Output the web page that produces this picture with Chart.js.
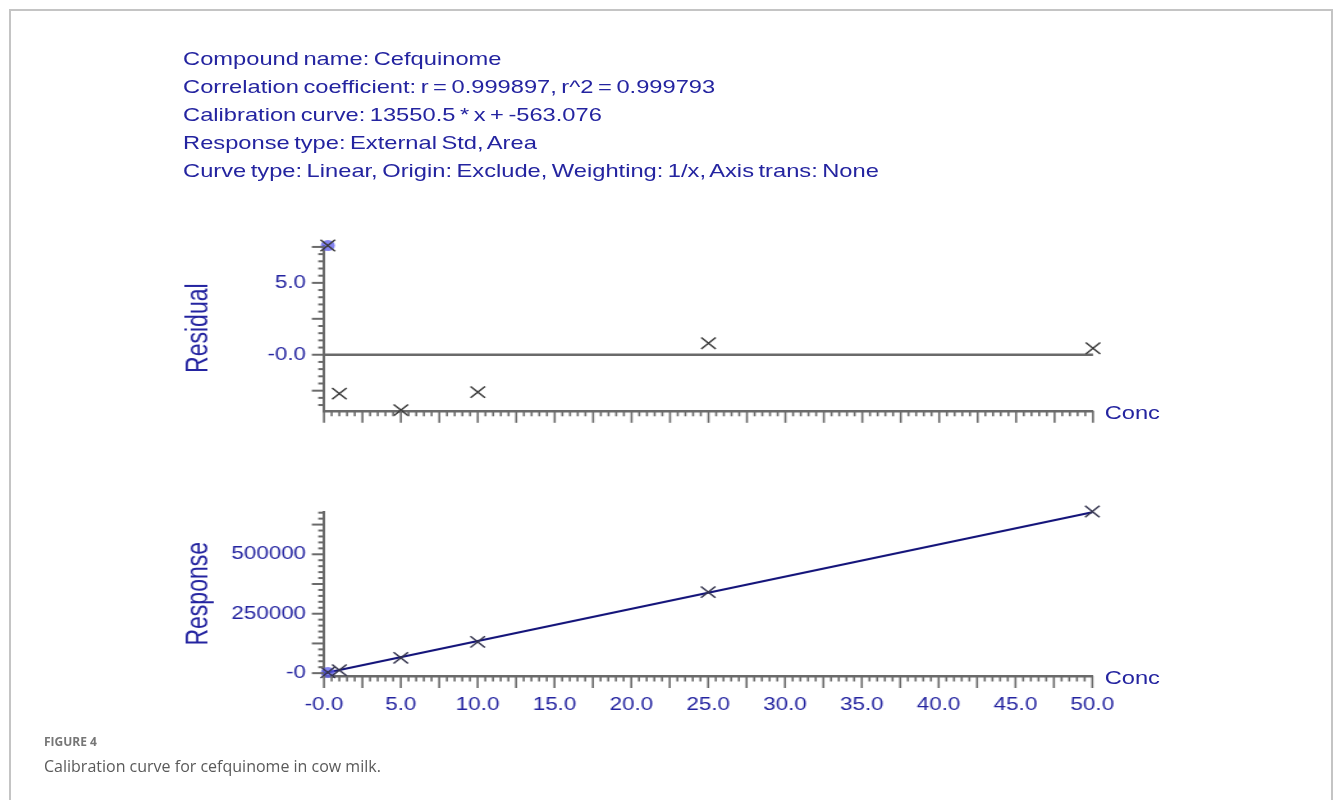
<!DOCTYPE html>
<html><head><meta charset="utf-8">
<script src="https://cdn.jsdelivr.net/npm/chart.js@4.4.1/dist/chart.umd.min.js"></script>
<style>
html,body{margin:0;padding:0;background:#fff;width:1333px;height:800px;overflow:hidden;}
#frame{position:absolute;left:9px;top:9px;width:1324px;height:900px;border:2px solid #c4c4c4;border-bottom:none;box-sizing:border-box;}
#fig{position:absolute;left:0;top:0;width:1042px;height:740px;transform:scaleX(1.28);transform-origin:0 0;}
.t{position:absolute;font-family:'Liberation Sans',Arial,sans-serif;color:#2424a0;white-space:nowrap;}
#info{left:143px;top:45px;font-size:18.5px;line-height:28px;word-spacing:-1.6px;}
.conc{font-size:18.5px;line-height:20px;left:863px;}
#c1{position:absolute;left:100px;top:221.2px;width:780px;height:214.3px;}
#c2{position:absolute;left:100px;top:487.2px;width:789.4px;height:243px;}
#figlabel{position:absolute;left:44px;top:734px;font-family:'Open Sans',sans-serif;font-weight:700;font-size:12px;line-height:16px;color:#767676;}
#caption{position:absolute;left:44px;top:755.5px;font-family:'Open Sans',sans-serif;font-size:16px;line-height:20px;color:#5a5a5a;}
</style></head>
<body>
<div id="frame"></div>
<div id="fig">
  <div id="info" class="t"></div>
  <div id="c1"><canvas id="resChart"></canvas></div>
  <div id="c2"><canvas id="respChart"></canvas></div>
  <div class="t conc" style="top:403px">Conc</div>
  <div class="t conc" style="top:668px">Conc</div>
</div>
<div id="figlabel">FIGURE 4</div>
<div id="caption">Calibration curve for cefquinome in cow milk.</div>
<script>
// ---- data ----
const infoLines = [
  'Compound name: Cefquinome',
  'Correlation coefficient: r = 0.999897, r^2 = 0.999793',
  'Calibration curve: 13550.5 * x + -563.076',
  'Response type: External Std, Area',
  'Curve type: Linear, Origin: Exclude, Weighting: 1/x, Axis trans: None'
];
const concLevels     = [0.25, 1, 5, 10, 25, 50];
const residualValues = [7.6, -2.7, -3.85, -2.6, 0.8, 0.45];
const responseValues = [3080, 12620, 64580, 131480, 340900, 679900];
const highlightedIndex = 0;
const fitLineConc     = [0, 50];
const fitLineResponse = [-563, 676962];
const zeroLineConc     = [0, 50];
const zeroLineResidual = [0, 0];
const concTickValues  = [0, 5, 10, 15, 20, 25, 30, 35, 40, 45, 50];
const concTickLabels  = ['-0.0','5.0','10.0','15.0','20.0','25.0','30.0','35.0','40.0','45.0','50.0'];
const residualTickValues = [0, 5];
const residualTickLabels = ['-0.0', '5.0'];
const responseTickValues = [0, 250000, 500000];
const responseTickLabels = ['-0', '250000', '500000'];

document.getElementById('info').innerHTML = infoLines.map(s => '<div>' + s + '</div>').join('');

const BLUE = '#2424a0';
const AXIS = '#6a6a6a';
const FONT = 'Liberation Sans';

function pts(xs, ys) { return xs.map((x, i) => ({x: x, y: ys[i]})); }

function tickPlugin(o) {
  return {
    id: 'axisTicks',
    afterDraw(chart) {
      const {ctx, chartArea: a, scales: {x, y}} = chart;
      ctx.save();
      ctx.strokeStyle = AXIS;
      const isMult = (v, m) => Math.abs(v / m - Math.round(v / m)) < 1e-6;
      ctx.lineWidth = 1.6;
      for (let i = Math.ceil(x.min / o.xStep - 1e-9); i * o.xStep <= x.max + 1e-9; i++) {
        const v = i * o.xStep;
        const len = isMult(v, o.xMid) ? 12 : 5.5;
        const px = x.getPixelForValue(v);
        ctx.beginPath(); ctx.moveTo(px, a.bottom); ctx.lineTo(px, a.bottom + len); ctx.stroke();
      }
      ctx.lineWidth = 2;
      for (let i = Math.ceil(y.min / o.yStep - 1e-9); i * o.yStep <= y.max + 1e-9; i++) {
        const v = i * o.yStep;
        const len = isMult(v, o.yMid) ? 9.5 : 4.5;
        const py = y.getPixelForValue(v);
        ctx.beginPath(); ctx.moveTo(a.left, py); ctx.lineTo(a.left - len, py); ctx.stroke();
      }
      ctx.restore();
    }
  };
}

function labelFrom(values, labels) {
  return function (v) { const i = values.indexOf(v); return i >= 0 ? labels[i] : ''; };
}

function baseOptions(o) {
  return {
    responsive: true, maintainAspectRatio: false, animation: false,
    layout: {padding: {left: 0, right: 26.1, top: 0, bottom: 0}},
    plugins: {legend: {display: false}, tooltip: {enabled: false}},
    scales: {
      x: {
        type: 'linear', position: 'bottom', min: 0, max: 50,
        grid: {display: false, drawTicks: false},
        border: {display: true, color: AXIS, width: 2.5},
        afterBuildTicks: s => { s.ticks = concTickValues.map(v => ({value: v})); },
        afterFit: s => { s.height = o.xHeight; },
        ticks: {display: o.showXLabels, autoSkip: false, maxRotation: 0, padding: 19,
          color: BLUE, font: {family: FONT, size: 17.5},
          callback: labelFrom(concTickValues, concTickLabels)}
      },
      y: {
        type: 'linear', position: 'left', min: o.yMin, max: o.yMax,
        grid: {display: false, drawTicks: false},
        border: {display: true, color: AXIS, width: 2},
        afterBuildTicks: s => { s.ticks = o.yTicks.map(v => ({value: v})); },
        afterFit: s => { s.width = 153.1; },
        title: {display: true, text: o.yTitle, color: BLUE, font: {family: FONT, size: 23}, padding: {top: 41.7, bottom: 0}},
        ticks: {padding: 14, color: BLUE, font: {family: FONT, size: 17.5},
          callback: labelFrom(o.yTicks, o.yLabels)}
      }
    }
  };
}

new Chart(document.getElementById('resChart'), {
  type: 'scatter',
  data: {datasets: [
    {order: 0, data: pts(concLevels, residualValues), pointStyle: 'crossRot', pointRadius: 8,
     borderColor: '#3a3a3a', borderWidth: 1.4, clip: false},
    {order: 1, data: [{x: concLevels[highlightedIndex], y: residualValues[highlightedIndex]}], pointStyle: 'circle',
     pointRadius: 5.5, backgroundColor: 'rgba(90,90,235,0.75)', borderWidth: 0, clip: false},
    {order: 2, type: 'line', data: pts(zeroLineConc, zeroLineResidual), borderColor: AXIS, borderWidth: 2.6,
     pointRadius: 0, clip: false}
  ]},
  options: baseOptions({xHeight: 10, showXLabels: false, yMin: -3.9, yMax: 7.6,
    yTicks: residualTickValues, yLabels: residualTickLabels, yTitle: 'Residual'}),
  plugins: [tickPlugin({xStep: 0.5, xMid: 2.5, yStep: 0.5, yMid: 2.5})]
});

new Chart(document.getElementById('respChart'), {
  type: 'scatter',
  data: {datasets: [
    {order: 0, data: pts(concLevels, responseValues), pointStyle: 'crossRot', pointRadius: 8,
     borderColor: '#34344e', borderWidth: 1.4, clip: false},
    {order: 1, data: [{x: concLevels[highlightedIndex], y: responseValues[highlightedIndex]}], pointStyle: 'circle',
     pointRadius: 5.5, backgroundColor: 'rgba(90,90,235,0.75)', borderWidth: 0, clip: false},
    {order: 2, type: 'line', data: pts(fitLineConc, fitLineResponse), borderColor: '#14147a', borderWidth: 2,
     pointRadius: 0, clip: false}
  ]},
  options: baseOptions({xHeight: 54, showXLabels: true, yMin: -12000, yMax: 680000,
    yTicks: responseTickValues, yLabels: responseTickLabels, yTitle: 'Response'}),
  plugins: [tickPlugin({xStep: 0.5, xMid: 2.5, yStep: 25000, yMid: 125000})]
});
</script>
</body></html>
